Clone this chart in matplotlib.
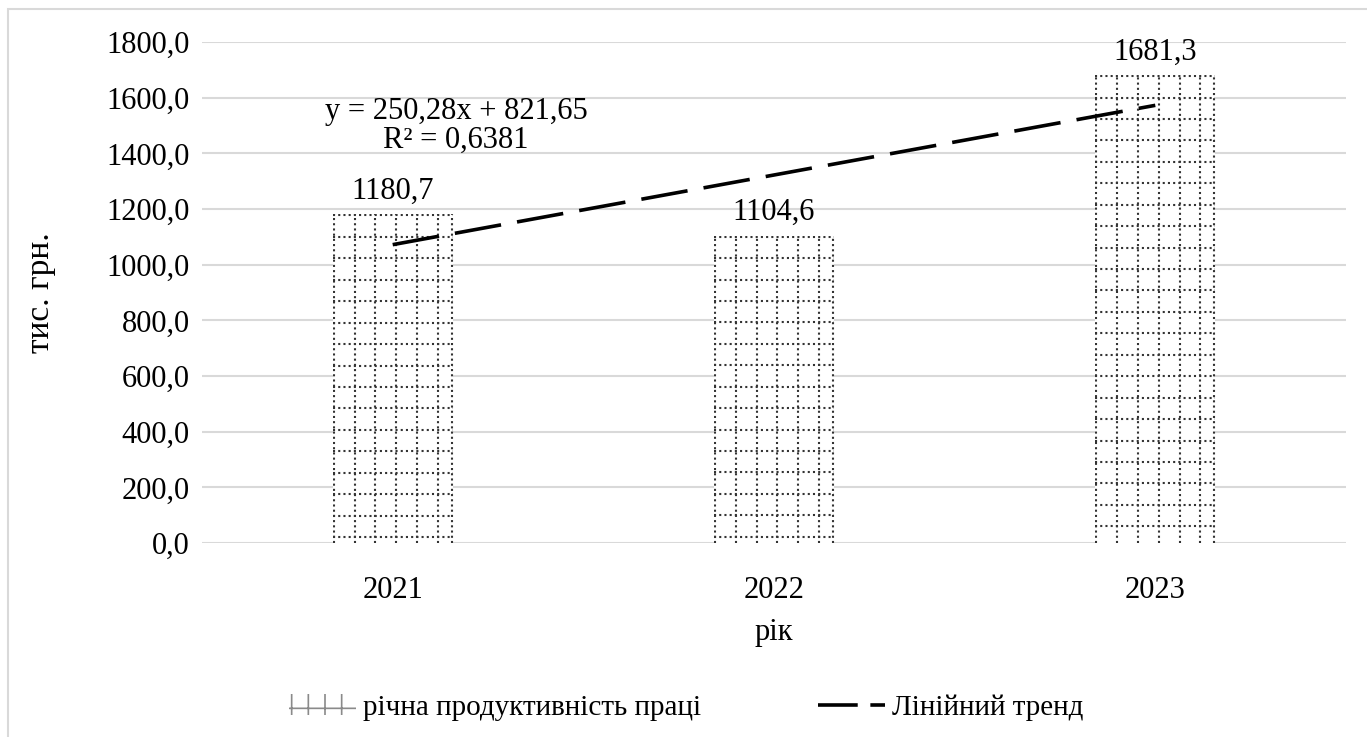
import matplotlib
matplotlib.use("Agg")
import matplotlib.pyplot as plt
from matplotlib.patches import Rectangle, Patch
from matplotlib.lines import Line2D
import numpy as np

plt.rcParams['font.family'] = ['Liberation Serif', 'DejaVu Serif']
plt.rcParams['hatch.linewidth'] = 1.2

years = ['2021', '2022', '2023']
productivity = [1180.7, 1104.6, 1681.3]
trend_slope = 250.28
trend_icept = 821.65
trend_r2 = 0.6381

fs = 22

fig = plt.figure(figsize=(13.67, 7.37), dpi=100)
ax = fig.add_axes([0.1478, 0.2632, 0.8368, 0.6798])

x = np.arange(1, len(years) + 1)
bw = 0.315
bars = ax.bar(x, productivity, width=bw, color='white', edgecolor='none', zorder=2)

# dotted grid fill inside each bar
dx = 0.0545
dy = 77.0
dot = dict(color='#333333', lw=1.5, linestyle=(0, (1, 1.5)), zorder=3)
for b, h in zip(bars, productivity):
    x0 = b.get_x()
    x1 = x0 + b.get_width()
    for xv in np.arange(x0 + 0.003, x1, dx):
        ln, = ax.plot([xv, xv], [0, h], **dot)
        ln.set_clip_path(b)
    ln, = ax.plot([x1 - 0.003, x1 - 0.003], [0, h], **dot)
    for yv in np.arange(h - 4, 0, -dy):
        ln, = ax.plot([x0, x1], [yv, yv], **dot)
        ln.set_clip_path(b)

# value labels
for xi, v in zip(x, productivity):
    ax.annotate(f"{v:.1f}".replace('.', ','), (xi, v), xytext=(0, 6),
                textcoords='offset points', ha='center', va='bottom', fontsize=fs)

# linear trend
tx = np.array([x[0], x[-1]])
ax.plot(tx, trend_slope * tx + trend_icept, color='black', lw=2.6,
        dashes=(13, 4.5), zorder=4)
eq = f"y = {trend_slope:.2f}x + {trend_icept:.2f}".replace('.', ',')
r2 = f"R² = {trend_r2:.4f}".replace('.', ',')
ax.text(0.222, 0.833, eq + "\n" + r2, transform=ax.transAxes, ha='center',
        va='center', fontsize=fs, linespacing=1.0, zorder=5)

ax.set_xlim(0.5, 3.5)
ax.set_ylim(0, 1800)
yt = np.arange(0, 1801, 200)
ax.set_yticks(yt)
ax.set_yticklabels([f"{v:.1f}".replace('.', ',') for v in yt])
ax.set_xticks(x)
ax.set_xticklabels(years)
ax.tick_params(axis='both', length=0, labelsize=fs)
ax.tick_params(axis='y', pad=9)
ax.tick_params(axis='x', pad=24)
for s in ax.spines.values():
    s.set_visible(False)
ax.grid(axis='y', color='#d9d9d9', lw=1.5, zorder=0)
ax.set_axisbelow(True)

ax.set_ylabel('тис. грн.', fontsize=24)
ax.yaxis.set_label_coords(-0.128, 0.5)
ax.set_xlabel('рік', fontsize=fs)
ax.xaxis.set_label_coords(0.5, -0.15)

# chart border
fig.patches.append(Rectangle((8 / 1367, -0.05), 1.1, 1.05 - 9 / 737, transform=fig.transFigure,
                             fill=False, edgecolor='#d9d9d9', lw=1.5))

h1 = Patch(facecolor='white', edgecolor='#8a8a8a', hatch='+', lw=0)
h2 = Line2D([0], [0], color='black', lw=2.6, dashes=(11, 3.5))
fig.legend([h1, h2], ['річна продуктивність праці', 'Лінійний тренд'],
           loc='center', bbox_to_anchor=(0.502, 0.04), ncol=2, frameon=False,
           fontsize=21, handlelength=2.3, columnspacing=4.0, handletextpad=0.25)

fig.savefig('out.png', dpi=100)
